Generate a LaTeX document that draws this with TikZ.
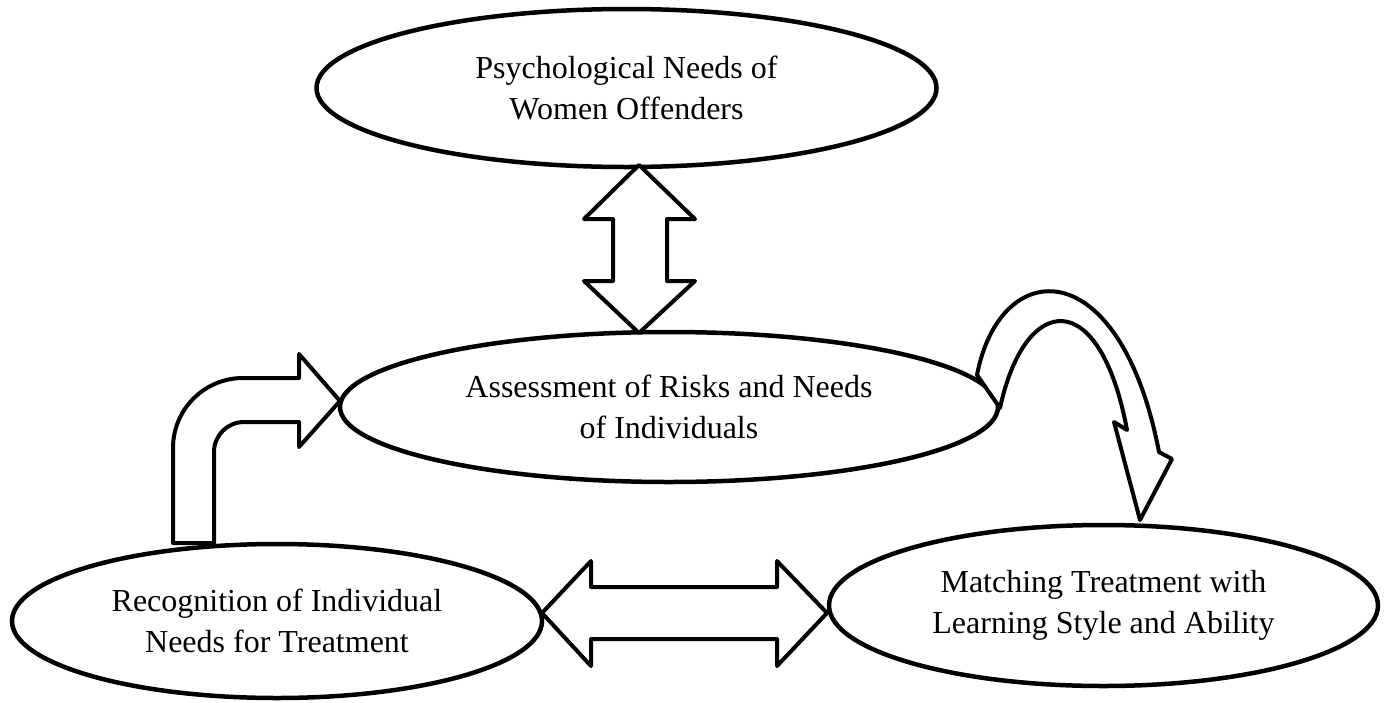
\documentclass[tikz,border=0pt]{standalone}
\usepackage{fontspec}
\setmainfont{Liberation Serif}
\usetikzlibrary{shapes.geometric}
\begin{document}
\begin{tikzpicture}[x=1pt,y=-1pt,
  oval/.style={ellipse,draw,line width=4.5pt,inner sep=0pt,align=center,
    font=\fontsize{32}{41}\selectfont},
  blockarrow/.style={draw,fill=white,line width=4pt,line join=round}]
\useasboundingbox (0,0) rectangle (1390,702);
\node[oval,minimum width=620pt,minimum height=158pt] (psy) at (626.5,88)
  {Psychological Needs of\\Women Offenders};
\node[oval,minimum width=658pt,minimum height=150pt] (ass) at (669,407)
  {Assessment of Risks and Needs\\of Individuals};
\node[oval,minimum width=530pt,minimum height=154pt] (rec) at (277,621)
  {Recognition of Individual\\Needs for Treatment};
\node[oval,minimum width=549pt,minimum height=161pt] (mat) at (1103.5,605.5)
  {Matching Treatment with\\Learning Style and Ability};
% vertical double arrow between psy and ass
\draw[blockarrow] (639,165) -- (695,219) -- (667,219) -- (667,281) -- (695,281)
  -- (639,333) -- (584,281) -- (613,281) -- (613,219) -- (584,219) -- cycle;
% horizontal double arrow between rec and mat
\draw[blockarrow] (542,613) -- (591,561) -- (591,587) -- (777,587) -- (777,561)
  -- (827,613) -- (777,666) -- (777,639) -- (591,639) -- (591,666) -- cycle;
% bent arrow from rec to ass
\draw[blockarrow] (173,543) -- (173,448) arc[start angle=180,end angle=270,radius=70]
  -- (299,378) -- (299,354) -- (340,401) -- (299,447) -- (299,422) -- (244,422)
  arc[start angle=270,end angle=180,radius=30] -- (214,543) -- cycle;
% curved arrow from ass to mat
\draw[blockarrow] (977,375) .. controls (1000,255) and (1120,250) .. (1159,452)
  -- (1172,459) -- (1140,520) -- (1114,422) -- (1127,430)
  .. controls (1100,285) and (1025,292) .. (1000,408) -- cycle;
\end{tikzpicture}
\end{document}
